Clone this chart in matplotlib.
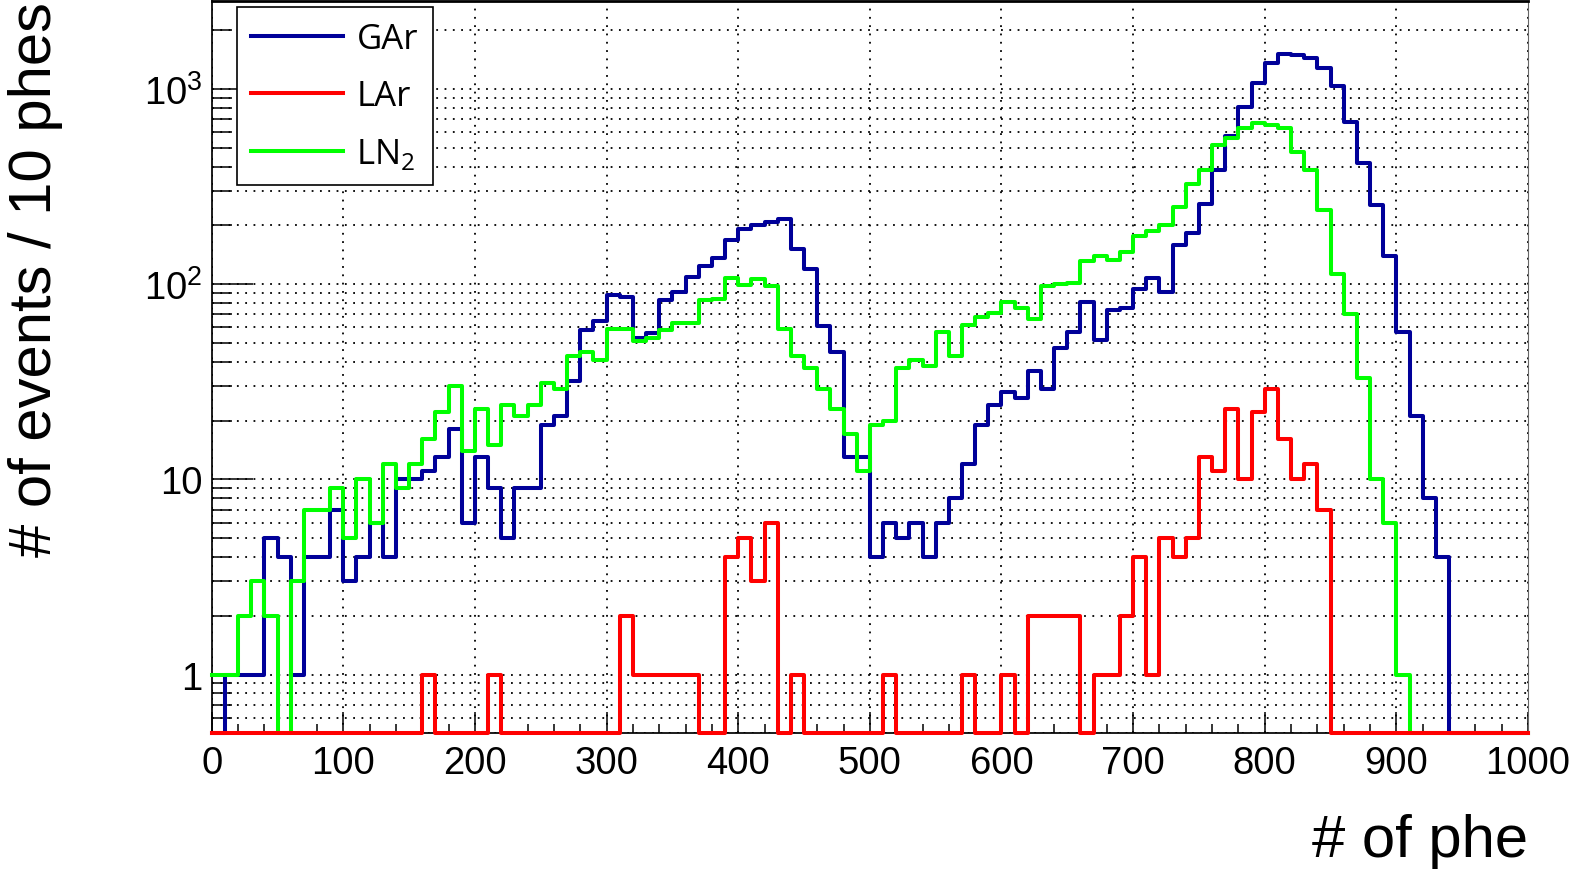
import numpy as np
import matplotlib
matplotlib.use("Agg")
import matplotlib.pyplot as plt
from matplotlib.ticker import MultipleLocator, LogLocator, NullFormatter

# ---------------- data (counts per 10-phe bin, 0..1000 phe) ----------------
bin_edges = np.arange(0, 1001, 10)

gar = [0, 1, 1, 1, 5, 4, 1, 4, 4, 7,
       3, 4, 6, 4, 10, 10, 11, 13, 18, 6,
       13, 9, 5, 9, 9, 19, 21, 32, 58, 65,
       88, 86, 53, 56, 83, 91, 109, 124, 136, 169,
       191, 201, 208, 216, 152, 120, 61, 45, 13, 13,
       4, 6, 5, 6, 4, 6, 8, 12, 19, 24,
       28, 26, 36, 29, 47, 57, 81, 52, 74, 75,
       94, 108, 91, 158, 183, 256, 385, 577, 806, 1072,
       1356, 1507, 1495, 1438, 1274, 1031, 675, 418, 255, 140,
       57, 21, 8, 4, 0, 0, 0, 0, 0, 0]

lar = [0, 0, 0, 0, 0, 0, 0, 0, 0, 0,
       0, 0, 0, 0, 0, 0, 1, 0, 0, 0,
       0, 1, 0, 0, 0, 0, 0, 0, 0, 0,
       0, 2, 1, 1, 1, 1, 1, 0, 0, 4,
       5, 3, 6, 0, 1, 0, 0, 0, 0, 0,
       0, 1, 0, 0, 0, 0, 0, 1, 0, 0,
       1, 0, 2, 2, 2, 2, 0, 1, 1, 2,
       4, 1, 5, 4, 5, 13, 11, 23, 10, 22,
       29, 16, 10, 12, 7, 0, 0, 0, 0, 0,
       0, 0, 0, 0, 0, 0, 0, 0, 0, 0]

ln2 = [1, 1, 2, 3, 2, 0, 3, 7, 7, 9,
       5, 10, 6, 12, 9, 12, 16, 22, 30, 14,
       23, 15, 24, 21, 24, 31, 29, 43, 45, 41,
       59, 59, 51, 53, 58, 63, 63, 83, 84, 108,
       99, 106, 98, 59, 43, 37, 29, 23, 17, 11,
       19, 20, 37, 41, 38, 57, 43, 62, 68, 71,
       81, 75, 66, 98, 100, 101, 131, 140, 133, 146,
       176, 186, 200, 248, 326, 382, 518, 561, 631, 669,
       656, 629, 474, 382, 241, 113, 70, 33, 10, 6,
       1, 0, 0, 0, 0, 0, 0, 0, 0, 0]

series_names = ["GAr", "LAr", r"LN$_\mathregular{2}$"]
series_colors = ["#000099", "#ff0000", "#00ff00"]

xtick_values = list(range(0, 1001, 100))
ytick_values = [1, 10, 100, 1000]
ytick_labels = ["1", "10", r"$\mathregular{10^{2}}$", r"$\mathregular{10^{3}}$"]

YMIN, YMAX = 0.5, 2830

# ---------------- figure ----------------
W, H = 1575, 870
fig = plt.figure(figsize=(W / 100, H / 100), dpi=100)
ax_l, ax_r, ax_t, ax_b = 211.7, 1528.0, 1.7, 734.3
ax = fig.add_axes([ax_l / W, 1 - ax_b / H, (ax_r - ax_l) / W, (ax_b - ax_t) / H])

ax.set_yscale("log")
ax.set_xlim(0, 1000)
ax.set_ylim(YMIN, YMAX)

tick_font = "Liberation Sans"

# grid
grid_kw = dict(color="black", linestyle=(0, (1, 3.6)), linewidth=1.3)
ax.grid(True, which="major", axis="x", **grid_kw)
ax.grid(True, which="both", axis="y", **grid_kw)
ax.set_axisbelow(True)

# histograms (drawn GAr, LN2, LAr)
handles = {}
for idx, vals in zip([0, 2, 1], [gar, ln2, lar]):
    v = np.asarray(vals, dtype=float)
    vp = np.where(v > 0, v, YMIN)
    (ln,) = ax.step(bin_edges, np.append(vp, vp[-1]), where="post",
                    color=series_colors[idx], linewidth=2.9,
                    label=series_names[idx], clip_on=False, zorder=3)
    handles[idx] = ln

# ticks
ax.set_xticks(xtick_values)
ax.xaxis.set_minor_locator(MultipleLocator(20))
ax.set_yticks(ytick_values, labels=ytick_labels)
ax.yaxis.set_minor_locator(LogLocator(base=10, subs=np.arange(2, 10)))
ax.yaxis.set_minor_formatter(NullFormatter())

ax.tick_params(axis="x", which="major", direction="in", length=15, width=1.1,
               pad=8.5, labelsize=27.5, top=False)
ax.tick_params(axis="x", which="minor", direction="in", length=6.5, width=1.1, top=False)
ax.tick_params(axis="y", which="major", direction="in", length=29.5, width=1.1,
               pad=6.6, labelsize=27.5, right=False)
ax.tick_params(axis="y", which="minor", direction="in", length=14.4, width=1.1, right=False)
for lab in ax.get_xticklabels() + ax.get_yticklabels():
    lab.set_fontfamily(tick_font)

# spines
ax.spines["left"].set_linewidth(1.25)
ax.spines["bottom"].set_linewidth(1.25)
ax.spines["top"].set_linewidth(2.0)
ax.spines["right"].set_linewidth(0.8)
ax.spines["right"].set_color("#666666")

# axis titles
ax.set_xlabel("# of phe", fontsize=43, fontfamily=tick_font, loc="right")
ax.xaxis.set_label_coords(1.0, (ax_b - 814.0) / (ax_b - ax_t))
ax.set_ylabel("# of events / 10 phes", fontsize=43, fontfamily=tick_font, loc="top")
ax.yaxis.set_label_coords((63 - ax_l) / (ax_r - ax_l), 1.0)

# legend
leg = ax.legend([handles[0], handles[1], handles[2]], series_names,
                loc="upper left",
                bbox_to_anchor=((236.7 - ax_l) / (ax_r - ax_l), (ax_b - 8.3) / (ax_b - ax_t)),
                borderaxespad=0, prop={"family": "Open Sans", "size": 25},
                handlelength=2.65, handletextpad=0.38, labelspacing=0.66,
                borderpad=0.42, fancybox=False, framealpha=1, edgecolor="black")
leg.get_frame().set_linewidth(1.2)
leg.set_zorder(5)

fig.savefig("out.png", dpi=100)
